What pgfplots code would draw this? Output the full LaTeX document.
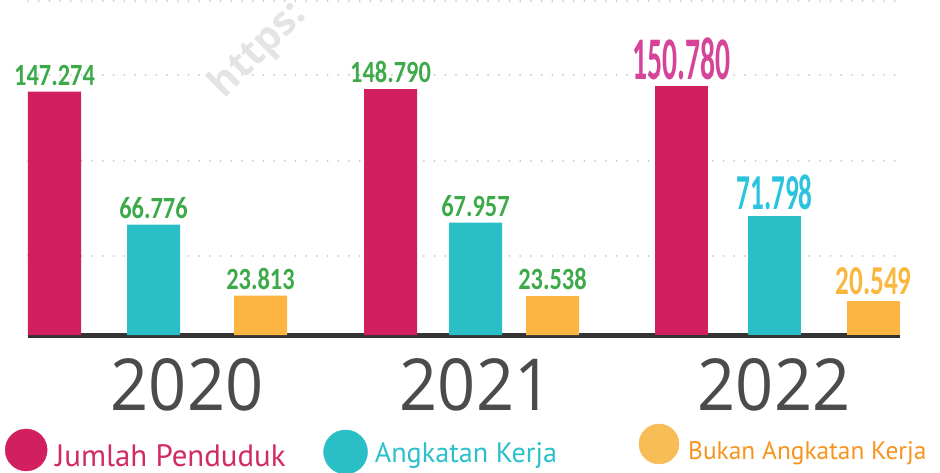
\documentclass[border=0pt]{standalone}
\usepackage{pgfplots}
\pgfplotsset{compat=1.18}
\usepackage{graphicx}
\usepackage{fontspec}
\setmainfont{Open Sans}
\newfontfamily\yearfont{Open Sans}
\newfontfamily\legfont{PT Sans}
\newfontfamily\lblfont{Carlito}
\newfontfamily\wmfont{Open Sans}

\definecolor{jp}{HTML}{D11F5F}
\definecolor{ak}{HTML}{2ABFC6}
\definecolor{bk}{HTML}{FBB540}
\definecolor{lblgreen}{HTML}{3DAA4A}
\definecolor{lblpink}{HTML}{D6449A}
\definecolor{lblcyan}{HTML}{2BC4DE}
\definecolor{lblorange}{HTML}{F9B73E}
\definecolor{legjp}{HTML}{D11F5F}
\definecolor{legak}{HTML}{2ABFC6}
\definecolor{legbk}{HTML}{F7BE57}
\definecolor{legjpt}{HTML}{D22A63}
\definecolor{legakt}{HTML}{2CC0CA}
\definecolor{legbkt}{HTML}{F7941D}
\definecolor{yeargray}{HTML}{4B4B4B}
\definecolor{baseline}{HTML}{333333}
\definecolor{gridgray}{HTML}{C8C8C8}
\definecolor{wmgray}{HTML}{E4E4E4}

\newcommand{\vlab}[3]{\scalebox{#1}[#2]{\lblfont\bfseries\fontsize{31}{31}\selectfont #3}}
\newcommand{\yr}[1]{\scalebox{0.93}[1]{#1}}

\pgfplotsset{
  lbl/.style n args={3}{
    nodes near coords={\vlab{#1}{#2}{\pgfmathprintnumber[fixed,precision=0,use comma,assume math mode=true]{\pgfplotspointmeta}}},
    every node near coord/.append style={text=#3, inner sep=0pt, outer sep=0pt, anchor=south, yshift=6bp}
  },
  mybar/.style={ybar, bar width=53, bar shift=0pt, draw=none, fill=#1, forget plot}
}

\begin{document}
\begin{tikzpicture}
\begin{axis}[
  scale only axis, width=872bp, height=335bp,
  xmin=28, xmax=900, ymin=0, ymax=202660,
  axis x line*=bottom, axis y line*=left,
  x axis line style={line width=5bp, color=baseline},
  y axis line style={draw=none},
  xtick={187,476,774}, xticklabels={\yr{2020},\yr{2021},\yr{2022}},
  xtick style={draw=none}, ytick style={draw=none},
  major tick length=0pt,
  xticklabel style={font=\yearfont\fontsize{72}{72}\selectfont, text=yeargray, anchor=base, yshift=-75bp},
  ytick={47800,105300,157300,202000}, yticklabels={},
  scaled y ticks=false,
  ymajorgrids,
  grid style={line width=2bp, line cap=round, dash pattern=on 0bp off 10.7bp, color=gridgray},
  clip=false,
  legend columns=3,
  legend cell align=left,
  legend style={at={(axis description cs:-0.0264,-0.3433)}, anchor=west,
    draw=none, fill=none, inner sep=0pt, outer sep=0pt,
    /tikz/column sep=0pt, /tikz/row sep=0pt,
    nodes={inner sep=0pt, outer sep=0pt},
    font=\legfont},
]
% Jumlah Penduduk
\addplot[mybar=jp, lbl={0.79}{1}{lblgreen}] coordinates {(54.5,147274) (390.5,148790)};
\addplot[mybar=jp, lbl={0.96}{1.96}{lblpink}] coordinates {(681.5,150780)};
% Angkatan Kerja
\addplot[mybar=ak, lbl={0.79}{1}{lblgreen}] coordinates {(153.5,66776) (475.5,67957)};
\addplot[mybar=ak, lbl={0.88}{1.63}{lblcyan}] coordinates {(774.5,71798)};
% Bukan Angkatan Kerja
\addplot[mybar=bk, lbl={0.79}{1}{lblgreen}] coordinates {(260.5,23813) (552.5,23538)};
\addplot[mybar=bk, lbl={0.88}{1.33}{lblorange}] coordinates {(873.5,20549)};

\addlegendimage{legend image code/.code={\fill[legjp] (21bp,9bp) circle[radius=21bp]; \path (50bp,0bp);}}
\addlegendentry{\makebox[268bp][l]{\fontsize{31}{31}\selectfont\raisebox{6bp}{\textcolor{legjpt}{Jumlah Penduduk}}}}
\addlegendimage{legend image code/.code={\fill[legak] (21bp,7bp) circle[radius=22bp]; \path (50bp,0bp);}}
\addlegendentry{\makebox[264bp][l]{\fontsize{28.3}{28.3}\selectfont\raisebox{12bp}{\textcolor{legakt}{Angkatan Kerja}}}}
\addlegendimage{legend image code/.code={\fill[legbk] (21bp,15bp) circle[radius=20bp]; \path (50bp,0bp);}}
\addlegendentry{\makebox[245bp][l]{\fontsize{25.5}{25.5}\selectfont\raisebox{15bp}{\textcolor{legbkt}{Bukan Angkatan Kerja}}}}

\node[rotate=45, anchor=base west, text=wmgray, font=\wmfont\bfseries\fontsize{40}{40}\selectfont] at (axis cs:222,141000) {https:};
\end{axis}
\pgfresetboundingbox
\path[use as bounding box] ([xshift=-28bp,yshift=-138bp]current axis.south west) rectangle ([xshift=40bp]current axis.north east);
\end{tikzpicture}
\end{document}
